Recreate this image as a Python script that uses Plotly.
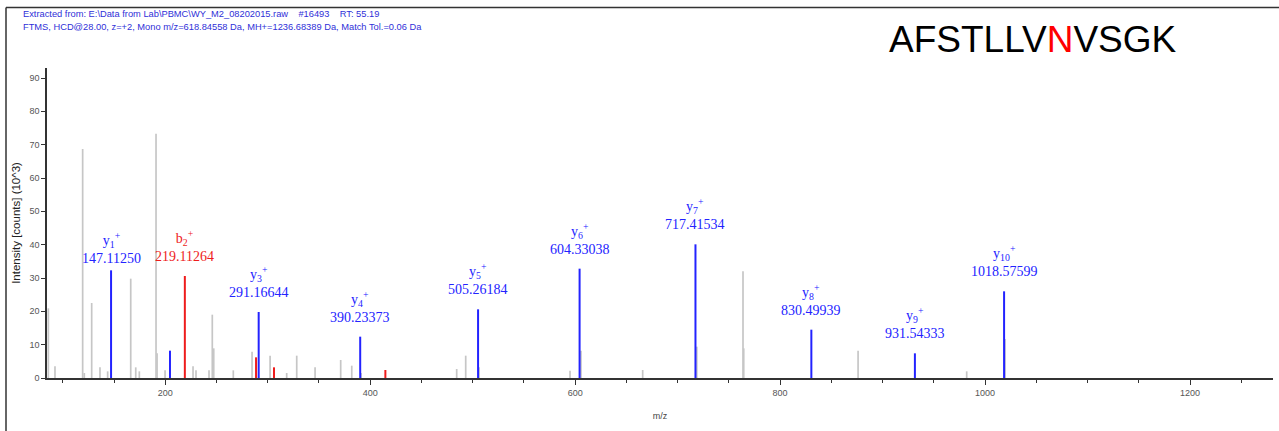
import plotly.graph_objects as go

# ---------------- data ----------------
# labelled fragment ions (m/z, intensity x10^3)
ion_names = ["y1", "b2", "y3", "y4", "y5", "y6", "y7", "y8", "y9", "y10"]
ion_mz = [147.11250, 219.11264, 291.16644, 390.23373, 505.26184,
          604.33038, 717.41534, 830.49939, 931.54333, 1018.57599]
ion_int = [32.3, 30.6, 19.8, 12.4, 20.6, 32.8, 40.1, 14.5, 7.4, 26.0]
ion_type = ["y", "b", "y", "y", "y", "y", "y", "y", "y", "y"]

# unlabelled matched peaks
blue_extra_mz = [204.6]
blue_extra_int = [8.2]
red_extra_mz = [288.6, 306.1, 414.8]
red_extra_int = [6.2, 3.2, 2.4]

# unmatched peaks
gray_mz = [85.9, 92.4, 119.4, 121.0, 128.2, 136.3, 143.8, 166.3, 171.2, 174.7,
           191.0, 192.0, 199.8, 227.1, 230.0, 242.7, 245.9, 247.3, 266.4, 284.7,
           302.3, 318.5, 328.3, 346.2, 371.2, 382.0, 391.1, 484.4, 493.2, 506.2,
           595.0, 605.7, 665.9, 718.7, 763.8, 764.5, 876.1, 982.1, 1019.5]
gray_int = [20.9, 3.5, 68.7, 1.5, 22.5, 3.2, 2.0, 29.8, 3.2, 2.0,
            73.3, 7.4, 2.3, 3.5, 2.3, 2.3, 19.0, 8.9, 2.3, 7.9,
            6.7, 1.5, 6.7, 3.2, 5.4, 3.7, 1.5, 2.7, 6.7, 3.2,
            2.2, 8.2, 2.4, 9.4, 32.0, 8.9, 8.2, 2.0, 11.7]

SP = "\u00a0"
header1 = ("Extracted from: E:\\Data from Lab\\PBMC\\WY_M2_08202015.raw" + SP * 4
           + "#16493" + SP * 4 + "RT: 55.19")
header2 = "FTMS, HCD@28.00, z=+2, Mono m/z=618.84558 Da, MH+=1236.68389 Da, Match Tol.=0.06 Da"
sequence = "AFSTLLVNVSGK"
glyco_site = 7  # index of highlighted residue

# ---------------- style ----------------
BLUE = "#2323ff"
RED = "#ee1c1c"
GRAY = "#c6c6c6"
label_gap = {"y1": 2}  # px offsets for label placement (default below)
DEFAULT_GAP = 10


def sticks(mz, inten):
    xs, ys = [], []
    for m, v in zip(mz, inten):
        xs += [m, m, None]
        ys += [0, v, None]
    return xs, ys


fig = go.Figure()

gx, gy = sticks(gray_mz, gray_int)
fig.add_trace(go.Scatter(x=gx, y=gy, mode="lines", line=dict(color=GRAY, width=1.7),
                         hoverinfo="skip", showlegend=False))

blue_mz = [m for m, t in zip(ion_mz, ion_type) if t == "y"] + blue_extra_mz
blue_int = [v for v, t in zip(ion_int, ion_type) if t == "y"] + blue_extra_int
red_mz = [m for m, t in zip(ion_mz, ion_type) if t == "b"] + red_extra_mz
red_int = [v for v, t in zip(ion_int, ion_type) if t == "b"] + red_extra_int

bx, by = sticks(blue_mz, blue_int)
fig.add_trace(go.Scatter(x=bx, y=by, mode="lines", line=dict(color=BLUE, width=2),
                         hoverinfo="skip", showlegend=False))
rx, ry = sticks(red_mz, red_int)
fig.add_trace(go.Scatter(x=rx, y=ry, mode="lines", line=dict(color=RED, width=2),
                         hoverinfo="skip", showlegend=False))

# ion labels
for name, m, v, t in zip(ion_names, ion_mz, ion_int, ion_type):
    col = BLUE if t == "y" else RED
    txt = f"{name[0]}<sub>{name[1:]}</sub><sup>+</sup><br>{m:.5f}"
    fig.add_annotation(x=m, y=v, text=txt, showarrow=False, xanchor="center",
                       yanchor="bottom", yshift=label_gap.get(name, DEFAULT_GAP),
                       font=dict(family="Liberation Serif", size=14, color=col))

# header lines
fig.add_annotation(xref="paper", yref="paper", x=-0.0212, y=1.1755, text=header1,
                   showarrow=False, xanchor="left", yanchor="middle",
                   font=dict(family="Liberation Sans", size=9.3, color="#2f2fd8"))
fig.add_annotation(xref="paper", yref="paper", x=-0.0212, y=1.1335, text=header2,
                   showarrow=False, xanchor="left", yanchor="middle",
                   font=dict(family="Liberation Sans", size=9.3, color="#2f2fd8"))

seq_html = "".join(
    f"<span style='color:red'>{c}</span>" if i == glyco_site else c
    for i, c in enumerate(sequence))
fig.add_annotation(xref="paper", yref="paper", x=0.804, y=1.0915, text=seq_html,
                   showarrow=False, xanchor="center", yanchor="middle",
                   font=dict(family="Liberation Sans", size=37, color="black"))

# outer frame (left + top edges)
fx0 = (6 - 47) / 1226
fy0 = (377.7 - 8) / 309.4
fig.add_shape(type="line", xref="paper", yref="paper", x0=fx0, x1=fx0, y0=fy0, y1=-0.2,
              line=dict(color="#333333", width=1.5))
fig.add_shape(type="line", xref="paper", yref="paper", x0=fx0, x1=1.01, y0=fy0, y1=fy0,
              line=dict(color="#333333", width=1.5))

fig.update_layout(
    width=1279, height=431,
    margin=dict(l=47, r=6, t=68, b=53, autoexpand=False),
    paper_bgcolor="white", plot_bgcolor="white",
    font=dict(family="Liberation Sans", size=9, color="#444444"),
)
fig.update_xaxes(
    range=[84.6, 1281], showgrid=False, zeroline=False,
    showline=True, linecolor="#333333", linewidth=1.5,
    tickmode="linear", tick0=0, dtick=200, ticks="outside", ticklen=5,
    tickcolor="#333333", tickwidth=1.3,
    minor=dict(dtick=50, tick0=0, ticks="outside", ticklen=3, tickcolor="#333333", tickwidth=1.3),
    tickfont=dict(size=9, color="#555555"),
    title=dict(text="m/z", font=dict(size=9, color="#444444"), standoff=16),
)
fig.update_yaxes(
    range=[0, 93.0], showgrid=False, zeroline=False,
    showline=True, linecolor="#333333", linewidth=1.5,
    tickmode="linear", tick0=0, dtick=10, ticks="outside", ticklen=4,
    tickcolor="#333333", tickwidth=1.3,
    tickfont=dict(size=9, color="#555555"),
    title=dict(text="Intensity [counts] (10^3)", font=dict(size=11.5, color="#222222"), standoff=6),
)

fig.write_html("out.html", config={"displayModeBar": False},
               post_script="document.body.style.margin='0';document.body.style.overflow='hidden';")
